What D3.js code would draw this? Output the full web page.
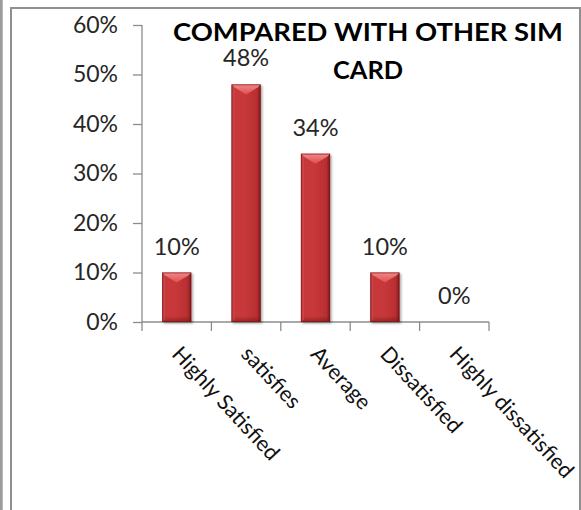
<!DOCTYPE html>
<html>
<head>
<meta charset="utf-8">
<script src="https://cdn.jsdelivr.net/npm/d3@7"></script>
<style>
  html, body { margin: 0; padding: 0; background: #fff; }
  svg { display: block; }
</style>
</head>
<body>
<svg id="chart" width="581" height="510"></svg>
<script>
// Survey answers: satisfaction compared with other SIM cards
const categories = ["Highly Satisfied", "satisfies", "Average", "Dissatisfied", "Highly dissatisfied"];
const shares = [0.10, 0.48, 0.34, 0.10, 0.00];
const yTicks = [0, 0.1, 0.2, 0.3, 0.4, 0.5, 0.6];
const titleLines = ["COMPARED WITH OTHER SIM", "CARD"];
const titleWidths = [390, 70];

const FONT = "Lato, 'Open Sans', 'DejaVu Sans', sans-serif";
const svg = d3.select("#chart");
const defs = svg.append("defs");

// frame around the chart area
svg.append("rect").attr("x", 0).attr("y", 0).attr("width", 2.7).attr("height", 510).attr("fill", "#9b9b9b");
svg.append("path")
  .attr("d", "M11,510 V8 H580 V510")
  .attr("fill", "none").attr("stroke", "#8f8f8f").attr("stroke-width", 2);

const g = svg.append("g");

// scales
const x = d3.scaleBand().domain(categories).range([142, 489])
  .paddingInner(0.58).paddingOuter(0.29);
const y = d3.scaleLinear().domain([0, 0.6]).range([322, 25]);

// bar fills
const side = defs.append("linearGradient").attr("id", "barSide")
  .attr("x1", "0%").attr("x2", "100%").attr("y1", "0%").attr("y2", "0%");
[["0%", "#8a1c1e"], ["9%", "#c6393b"], ["45%", "#c8383a"], ["88%", "#b72e30"], ["100%", "#7a1719"]]
  .forEach(([o, c]) => side.append("stop").attr("offset", o).attr("stop-color", c));
const bottomShade = defs.append("linearGradient").attr("id", "barBottom")
  .attr("x1", "0%").attr("x2", "0%").attr("y1", "0%").attr("y2", "100%");
bottomShade.append("stop").attr("offset", "0%").attr("stop-color", "#6e1416").attr("stop-opacity", 0);
bottomShade.append("stop").attr("offset", "100%").attr("stop-color", "#6e1416").attr("stop-opacity", 0.55);
const topFace = defs.append("linearGradient").attr("id", "barTop")
  .attr("x1", "0%").attr("x2", "0%").attr("y1", "0%").attr("y2", "100%");
topFace.append("stop").attr("offset", "0%").attr("stop-color", "#f08a8a");
topFace.append("stop").attr("offset", "100%").attr("stop-color", "#e04e50");

const shadow = defs.append("filter").attr("id", "barShadow")
  .attr("x", "-20%").attr("y", "-10%").attr("width", "150%").attr("height", "130%");
shadow.append("feDropShadow").attr("dx", 1.5).attr("dy", 1.5).attr("stdDeviation", 1.2)
  .attr("flood-color", "#000").attr("flood-opacity", 0.35);

// axes
const yAxis = g.append("g").attr("transform", `translate(${x.range()[0]},0)`)
  .call(d3.axisLeft(y).tickValues(yTicks).tickFormat(d3.format(".0%")).tickSize(9).tickPadding(15));
yAxis.select(".domain").attr("stroke", "#8c8c8c").attr("stroke-width", 1.3)
  .attr("d", `M0,${y(0.6)}V${y(0)}`);
yAxis.selectAll(".tick line").attr("stroke", "#8c8c8c").attr("stroke-width", 1.3);
yAxis.selectAll(".tick text").attr("font-family", FONT).attr("font-size", 23).attr("fill", "#262626");

const step = x.step();
const x0 = x.range()[0];
const boundaries = d3.range(categories.length + 1).map(i => x0 + i * step);
g.append("line").attr("x1", x0).attr("x2", x.range()[1]).attr("y1", y(0)).attr("y2", y(0))
  .attr("stroke", "#8c8c8c").attr("stroke-width", 1.3);
g.selectAll(".xtick").data(boundaries).join("line").attr("class", "xtick")
  .attr("x1", d => d).attr("x2", d => d).attr("y1", y(0)).attr("y2", y(0) + 9)
  .attr("stroke", "#8c8c8c").attr("stroke-width", 1.3);

// bars
const bars = g.selectAll(".bar").data(categories.map((c, i) => ({ c, v: shares[i] })).filter(d => d.v > 0))
  .join("g").attr("class", "bar").attr("filter", "url(#barShadow)");
bars.append("rect")
  .attr("x", d => x(d.c)).attr("y", d => y(d.v))
  .attr("width", x.bandwidth()).attr("height", d => y(0) - y(d.v))
  .attr("fill", "url(#barSide)");
bars.append("rect")
  .attr("x", d => x(d.c)).attr("y", d => y(0) - 6)
  .attr("width", x.bandwidth()).attr("height", 6)
  .attr("fill", "url(#barBottom)");
bars.append("path")
  .attr("d", d => {
    const l = x(d.c), r = l + x.bandwidth(), t = y(d.v), bw = x.bandwidth();
    return `M${l},${t}H${r}L${r - 3},${t + 3}L${l + bw / 2},${t + 10}L${l + 3},${t + 3}Z`;
  })
  .attr("fill", "url(#barTop)");
bars.append("path")
  .attr("d", d => {
    const l = x(d.c), t = y(d.v);
    return `M${l},${t}L${l + 3},${t + 3}V${y(0) - 2}L${l},${y(0)}Z`;
  })
  .attr("fill", "#d95052").attr("opacity", 0.55);
bars.append("rect")
  .attr("x", d => x(d.c) + 0.5).attr("y", d => y(d.v) + 0.5)
  .attr("width", x.bandwidth() - 1).attr("height", d => y(0) - y(d.v) - 1)
  .attr("fill", "none").attr("stroke", "#7a1719").attr("stroke-width", 1).attr("opacity", 0.6);

// value labels
g.selectAll(".val").data(categories.map((c, i) => ({ c, v: shares[i] })))
  .join("text").attr("class", "val")
  .attr("x", d => x(d.c) + x.bandwidth() / 2)
  .attr("y", d => y(d.v) - 18)
  .attr("text-anchor", "middle")
  .attr("font-family", FONT).attr("font-size", 23.5).attr("fill", "#262626")
  .text(d => d3.format(".0%")(d.v));

// category labels, slanted down to the right
g.selectAll(".cat").data(categories)
  .join("text").attr("class", "cat")
  .attr("transform", d => `translate(${x(d) + x.bandwidth() / 2 - 6},355) rotate(47)`)
  .attr("font-family", FONT).attr("font-size", 21.5).attr("fill", "#111")
  .text(d => d);

// title, two centred lines
g.selectAll(".title").data(titleLines)
  .join("text").attr("class", "title")
  .attr("x", 368).attr("y", (d, i) => 41 + i * 37.5)
  .attr("text-anchor", "middle")
  .attr("textLength", (d, i) => titleWidths[i]).attr("lengthAdjust", "spacingAndGlyphs")
  .attr("font-family", FONT).attr("font-weight", "bold").attr("font-size", 24).attr("fill", "#000")
  .text(d => d);
</script>
</body>
</html>
